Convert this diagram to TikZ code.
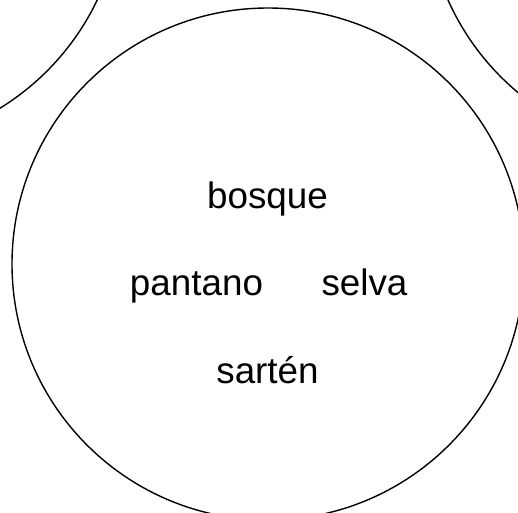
\documentclass[tikz,border=0pt]{standalone}
\usepackage{fontspec}
\setmainfont{Liberation Sans}
\begin{document}
\begin{tikzpicture}[x=1pt,y=-1pt,
  ring/.style={circle,draw=black,line width=1.4pt,inner sep=0pt,minimum size=512pt},
  word/.style={anchor=base,inner sep=0pt,font=\fontsize{36.8}{40}\selectfont}]
\useasboundingbox (0,0) rectangle (518,512);
\clip (0,0) rectangle (518,512);
\node[ring] (main) at (268,264) {};
\node[ring] (tl) at (-134,-110) {};
\node[ring] (tr) at (682,-104) {};
\node[word] (bosque) at (267.5,208) {bosque};
\node[word] (pantano) at (196.5,295) {pantano};
\node[word] (selva) at (364.5,295) {selva};
\node[word] (sarten) at (267.5,383) {sartén};
\end{tikzpicture}
\end{document}
